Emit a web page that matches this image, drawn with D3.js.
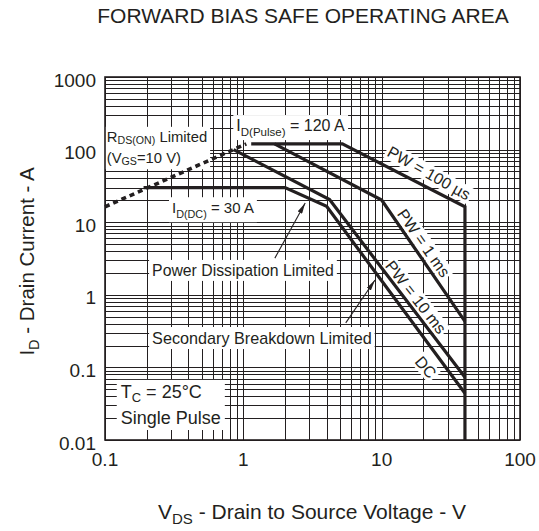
<!DOCTYPE html>
<html lang="en">
<head>
<meta charset="utf-8">
<title>Forward Bias Safe Operating Area</title>
<script src="https://d3js.org/d3.v7.min.js"></script>
<style>
	body { margin: 0; background: #fff; }
	text { font-family: "Liberation Sans", Arial, Helvetica, sans-serif; fill: #231f20; }
</style>
</head>
<body>
<svg id="chart" width="539" height="531"></svg>
<script>
	// axis ticks (log decades)
	var xTicks = [0.1, 1, 10, 100];
	var yTicks = [0.01, 0.1, 1, 10, 100, 1000];
	var xTickLabels = ["0.1", "1", "10", "100"];
	var yTickLabels = ["0.01", "0.1", "1", "10", "100", "1000"];

	// SOA boundaries: [VDS (V), ID (A)]
	var rdsLimit = [[0.1, 16.3], [1.05, 120]];
	var pw100us = [[1.14, 120], [5.2, 120], [40, 16.3], [40, 0.01]];
	var pw1ms = [[1.68, 120], [10, 20.2], [40, 0.43]];
	var pw10ms = [[0.85, 100], [4.2, 20.5], [40, 0.073]];
	var dcLine = [[0.19, 30], [2.0, 30], [4.0, 16.5], [40, 0.044]];

	var svg = d3.select("#chart");
	var ink = "#231f20";

	// plot box (note: "top" is taken by window.top)
	var pL = 105, pR = 520, pT = 77, pB = 440;

	var x = d3.scaleLog().domain([0.1, 100]).range([pL, pR]);
	var y = d3.scaleLog().domain([0.01, 1000]).range([pB, pT]);

	var gGrid = svg.append("g");
	var gBox = svg.append("g");
	var gCurve = svg.append("g");
	var gText = svg.append("g");

	//******** grid ********//
	function decade(lo, hi) {
		var v = [];
		for (var e = Math.round(Math.log10(lo)); e < Math.round(Math.log10(hi)); e++) {
			for (var k = 1; k < 10; k++) v.push(k * Math.pow(10, e));
		}
		v.push(hi);
		return v;
	}
	var crisp = function (p) { return Math.round(p) + 0.5; };

	gGrid.selectAll(".vx").data(decade(0.1, 100)).enter()
		.append("line")
		.attr("x1", function (d) { return crisp(x(d)); })
		.attr("x2", function (d) { return crisp(x(d)); })
		.attr("y1", pT).attr("y2", pB)
		.attr("stroke", ink).attr("stroke-width", 1)
		.attr("shape-rendering", "crispEdges");

	gGrid.selectAll(".hy").data(decade(0.01, 1000)).enter()
		.append("line")
		.attr("y1", function (d) { return crisp(y(d)); })
		.attr("y2", function (d) { return crisp(y(d)); })
		.attr("x1", pL).attr("x2", pR)
		.attr("stroke", ink).attr("stroke-width", 1)
		.attr("shape-rendering", "crispEdges");

	svg.append("rect")
		.attr("x", pL).attr("y", pT)
		.attr("width", pR - pL).attr("height", pB - pT)
		.attr("fill", "none").attr("stroke", ink).attr("stroke-width", 1.6);

	// tick labels
	svg.selectAll(".xt").data(xTicks).enter()
		.append("text")
		.attr("x", function (d) { return x(d); })
		.attr("y", pB + 26)
		.attr("text-anchor", "middle")
		.style("font-size", "19px")
		.text(function (d, i) { return xTickLabels[i]; });

	svg.selectAll(".yt").data(yTicks).enter()
		.append("text")
		.attr("x", pL - 9)
		.attr("y", function (d) { return y(d); })
		.attr("dy", "0.5em")
		.attr("text-anchor", "end")
		.style("font-size", "19px")
		.text(function (d, i) { return yTickLabels[i]; });

	// titles
	svg.append("text")
		.attr("x", 303).attr("y", 23)
		.attr("text-anchor", "middle")
		.style("font-size", "21px")
		.text("FORWARD BIAS SAFE OPERATING AREA");

	var xt = svg.append("text")
		.attr("x", 312).attr("y", 519)
		.attr("text-anchor", "middle")
		.style("font-size", "21px");
	xt.append("tspan").text("V");
	xt.append("tspan").attr("dy", 5).style("font-size", "15px").text("DS");
	xt.append("tspan").attr("dy", -5).text(" - Drain to Source Voltage - V");

	var yt = svg.append("text")
		.attr("transform", "translate(34," + ((pT + pB) / 2 + 3) + ") rotate(-90)")
		.attr("text-anchor", "middle")
		.style("font-size", "20.5px");
	yt.append("tspan").text("I");
	yt.append("tspan").attr("dy", 5).style("font-size", "14.5px").text("D");
	yt.append("tspan").attr("dy", -5).text(" - Drain Current - A");

	//******** curves ********//
	var line = d3.line()
		.x(function (d) { return x(d[0]); })
		.y(function (d) { return y(d[1]); });

	gCurve.append("path").attr("d", line(rdsLimit))
		.attr("fill", "none").attr("stroke", ink)
		.attr("stroke-width", 3.6).attr("stroke-dasharray", "5,4");

	[pw100us, pw1ms, pw10ms, dcLine].forEach(function (c) {
		gCurve.append("path").attr("d", line(c))
			.attr("fill", "none").attr("stroke", ink)
			.attr("stroke-width", 3.2).attr("stroke-linejoin", "miter");
	});

	// arrows
	svg.append("defs").append("marker")
		.attr("id", "head").attr("viewBox", "0 0 11 5")
		.attr("refX", 11).attr("refY", 2.5)
		.attr("markerWidth", 11).attr("markerHeight", 5)
		.attr("markerUnits", "userSpaceOnUse")
		.attr("orient", "auto")
		.append("path").attr("d", "M0,0 L11,2.5 L0,5 Z").attr("fill", ink);

	var arrows = [
		[[1.69, 3.2], [2.8, 18.4]],
		[[5.5, 0.41], [8.95, 1.6]]
	];
	arrows.forEach(function (a) {
		gCurve.append("line")
			.attr("x1", x(a[0][0])).attr("y1", y(a[0][1]))
			.attr("x2", x(a[1][0])).attr("y2", y(a[1][1]))
			.attr("stroke", ink).attr("stroke-width", 1.1)
			.attr("marker-end", "url(#head)");
	});

	//******** labels (white boxes hide the grid) ********//
	function boxUnder(g, pad) {
		var b = g.node().getBBox();
		gBox.append("rect")
			.attr("transform", g.attr("transform"))
			.attr("x", b.x - pad[0]).attr("y", b.y - pad[1])
			.attr("width", b.width + 2 * pad[0]).attr("height", b.height + 2 * pad[1])
			.attr("fill", "#fff");
	}

	// parts = [[text, isSub, shift], ...]
	function label(vx, vy, lines, size, pad) {
		var g = gText.append("g").attr("transform", "translate(" + x(vx) + "," + y(vy) + ")");
		lines.forEach(function (parts, li) {
			var t = g.append("text").attr("y", li * size * 1.45).style("font-size", size + "px");
			var sub = false;
			parts.forEach(function (p) {
				var ts = t.append("tspan").text(p[0]);
				if (p[1] && !sub) { ts.attr("dy", p[2]); sub = true; }
				else if (!p[1] && sub) { ts.attr("dy", -p[2]); sub = false; }
				if (p[1]) ts.style("font-size", (size * 0.72) + "px");
			});
		});
		boxUnder(g, pad || [3, 1]);
	}

	label(0.103, 128, [[["R"], ["DS(ON)", true, 2], [" Limited", false, 2]],
		[["(V"], ["GS", true, 2], ["=10 V)", false, 2]]], 14.8, [3, 2]);
	label(0.89, 180, [[["I"], ["D(Pulse)", true, 5], [" = 120 A", false, 5]]], 16, [3, 2]);
	label(0.305, 13.3, [[["I"], ["D(DC)", true, 5], [" = 30 A", false, 5]]], 15, [3, 2]);
	label(0.219, 1.82, [[["Power Dissipation Limited"]]], 15.8, [3, 2]);
	label(0.219, 0.21, [[["Secondary Breakdown Limited"]]], 16.2, [3, 2]);
	label(0.13, 0.038, [[["T"], ["C", true, 4], [" = 25°C", false, 4]],
		[["Single Pulse"]]], 18, [4, 2]);

	// rotated curve labels
	var curveLabels = [
		{ text: "PW = 100 µs", vx: 22, vy: 47.6, angle: 29.5 },
		{ text: "PW = 1 ms", vx: 20.2, vy: 5.17, angle: 55 },
		{ text: "PW = 10 ms", vx: 17.7, vy: 0.933, angle: 52 },
		{ text: "DC", vx: 20.9, vy: 0.101, angle: 50 }
	];
	curveLabels.forEach(function (c) {
		var g = gText.append("g")
			.attr("transform", "translate(" + x(c.vx) + "," + y(c.vy) + ") rotate(" + c.angle + ")");
		g.append("text").attr("text-anchor", "middle").attr("dy", "0.36em")
			.style("font-size", "16px").text(c.text);
		boxUnder(g, [2, 0]);
	});
</script>
</body>
</html>
